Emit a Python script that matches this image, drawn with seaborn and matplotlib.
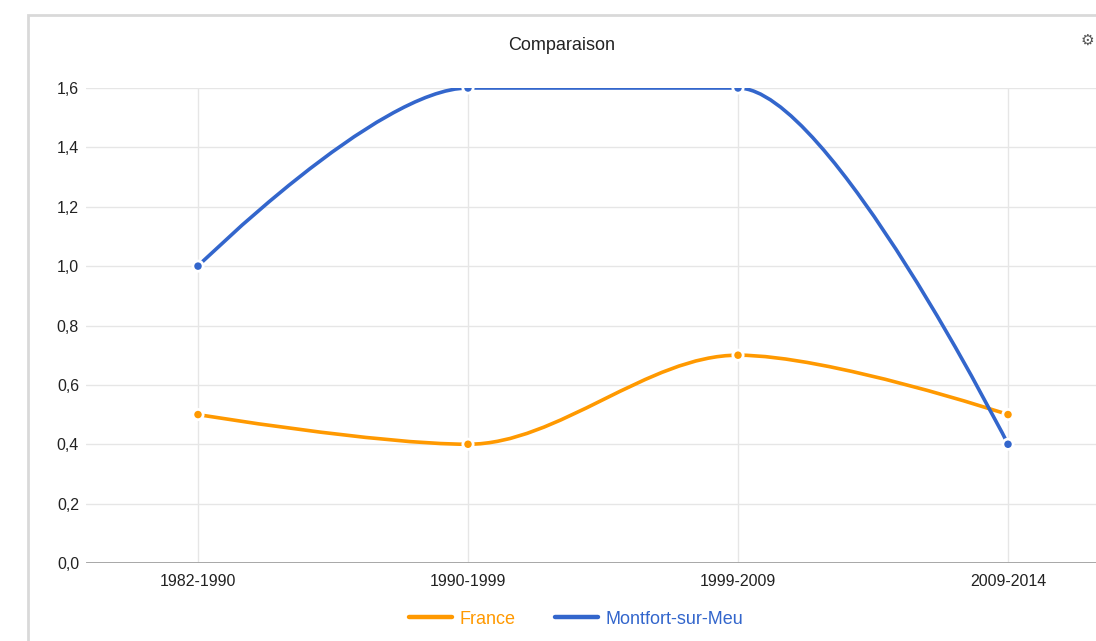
import matplotlib
matplotlib.use('Agg')
import matplotlib.pyplot as plt
import seaborn as sns
import pandas as pd
from matplotlib.path import Path
from matplotlib.patches import PathPatch, Rectangle
from matplotlib.lines import Line2D

periods = ['1982-1990', '1990-1999', '1999-2009', '2009-2014']
france = [0.5, 0.4, 0.7, 0.5]
montfort = [1.0, 1.6, 1.6, 0.4]
series_names = ['France', 'Montfort-sur-Meu']
colors = ['#FF9900', '#3366CC']
y_ticks = [0.0, 0.2, 0.4, 0.6, 0.8, 1.0, 1.2, 1.4, 1.6]


def smooth_path(xs, ys, s=1/3):
    # bezier curve through the points, flat at local extrema (like gviz "function" curves)
    n = len(xs)
    slopes = [None] * n
    for i in range(1, n - 1):
        if (ys[i] - ys[i-1]) * (ys[i+1] - ys[i]) <= 0:
            slopes[i] = 0.0
        else:
            slopes[i] = (ys[i+1] - ys[i-1]) / (xs[i+1] - xs[i-1])
    verts = [(xs[0], ys[0])]
    codes = [Path.MOVETO]
    for i in range(n - 1):
        dx = xs[i+1] - xs[i]
        if slopes[i] is None:
            c1 = (xs[i], ys[i])
        else:
            c1 = (xs[i] + s * dx, ys[i] + s * dx * slopes[i])
        if slopes[i+1] is None:
            c2 = (xs[i+1], ys[i+1])
        else:
            c2 = (xs[i+1] - s * dx, ys[i+1] - s * dx * slopes[i+1])
        verts += [c1, c2, (xs[i+1], ys[i+1])]
        codes += [Path.CURVE4] * 3
    return Path(verts, codes)


df = pd.DataFrame({
    'x': list(range(len(periods))) * 2,
    'value': france + montfort,
    'serie': [series_names[0]] * len(periods) + [series_names[1]] * len(periods),
})

sns.set_style('white')
plt.rcParams['font.family'] = ['Liberation Sans', 'DejaVu Sans']

fig = plt.figure(figsize=(10.96, 6.41), dpi=100)
W, H = 1096, 641
ax = fig.add_axes([86 / W, (H - 563) / H, (1096 - 86) / W, (563 - 88) / H])

# outer chart frame
fig.patches.append(Rectangle((28 / W, -0.1), 1.2, (H - 15) / H + 0.1, transform=fig.transFigure,
                             fill=False, edgecolor='#d9d9d9', linewidth=2))

for name, vals, col in zip(series_names, [france, montfort], colors):
    p = smooth_path(list(range(len(periods))), vals)
    ax.add_patch(PathPatch(p, fill=False, edgecolor=col, linewidth=2.6, zorder=3,
                           capstyle='round'))

sns.scatterplot(data=df, x='x', y='value', hue='serie', palette=colors, s=55,
                edgecolor='white', linewidth=2, zorder=4, legend=False, ax=ax)

ax.set_xlim(-(198 - 86) / 270, 3 + (1096 - 1008) / 270)
ax.set_ylim(0, 1.6)
ax.set_xticks(range(len(periods)))
ax.set_xticklabels(periods)
ax.set_yticks(y_ticks)
ax.set_yticklabels([f'{v:.1f}'.replace('.', ',') for v in y_ticks])
ax.tick_params(length=0, labelsize=11.5, colors='#222222')
ax.tick_params(axis='x', pad=8)
ax.tick_params(axis='y', pad=5)
ax.set_xlabel('')
ax.set_ylabel('')
ax.grid(True, color='#e6e6e6', linewidth=1)
for sp in ax.spines.values():
    sp.set_visible(False)
ax.axhline(0, color='#a0a0a0', linewidth=2, zorder=2)
ax.set_axisbelow(True)

fig.text(562 / W, 1 - 45 / H, 'Comparaison', ha='center', va='center', fontsize=13, color='#222222')
fig.text(1087 / W, 1 - 40 / H, '⚙', ha='center', va='center', fontsize=11, color='#555555',
         family='DejaVu Sans')

handles = [Line2D([], [], color=c, linewidth=3.2) for c in colors]
leg = fig.legend(handles, series_names, loc='center', bbox_to_anchor=(576 / W, 1 - 619 / H),
                 ncol=2, frameon=False, fontsize=13, handlelength=2.4, handletextpad=0.4,
                 columnspacing=2.2)
for t, c in zip(leg.get_texts(), colors):
    t.set_color(c)

fig.savefig('out.png', dpi=100)
